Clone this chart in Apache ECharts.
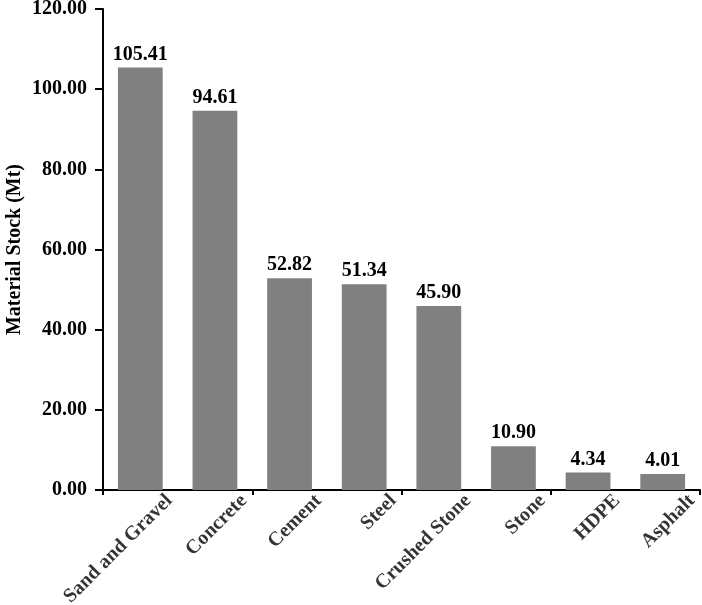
<!DOCTYPE html>
<html>
<head>
<meta charset="utf-8">
<script src="https://cdn.jsdelivr.net/npm/echarts@6/dist/echarts.min.js"></script>
<style>
	html, body { margin: 0; padding: 0; background: #fff; }
	#chart { width: 702px; height: 605px; }
</style>
</head>
<body>
<div id="chart"></div>
<script>
var materials = ['Sand and Gravel', 'Concrete', 'Cement', 'Steel', 'Crushed Stone', 'Stone', 'HDPE', 'Asphalt'];
var stockMt = [105.41, 94.61, 52.82, 51.34, 45.90, 10.90, 4.34, 4.01];
var yTicks = [0, 20, 40, 60, 80, 100, 120];

var font = '"Liberation Serif", "Times New Roman", serif';

var myChart = echarts.init(document.getElementById('chart'));
myChart.setOption({
	animation: false,
	grid: { left: 103, right: 2, top: 9, bottom: 115, containLabel: false, outerBoundsMode: 'none' },
	xAxis: {
		type: 'category',
		data: materials,
		axisLine: { lineStyle: { color: '#000', width: 2 } },
		axisTick: { show: true, inside: false, length: 5, lineStyle: { color: '#000', width: 2 } },
		// category names are drawn by the label series below so they can be shifted like the original
		axisLabel: { show: false }
	},
	yAxis: {
		type: 'value',
		min: yTicks[0],
		max: yTicks[yTicks.length - 1],
		interval: 20,
		name: 'Material Stock (Mt)',
		nameLocation: 'middle',
		nameGap: 78,
		nameMoveOverlap: false,
		nameTextStyle: { color: '#000', fontFamily: font, fontWeight: 'bold', fontSize: 20 },
		axisLine: { show: true, lineStyle: { color: '#000', width: 2 } },
		axisTick: { show: true, length: 8, lineStyle: { color: '#000', width: 2 } },
		splitLine: { show: false },
		axisLabel: {
			margin: 16,
			color: '#000',
			fontFamily: font,
			fontWeight: 'bold',
			fontSize: 20,
			formatter: function(v) { return v.toFixed(2); }
		}
	},
	series: [{
		type: 'bar',
		data: stockMt,
		barWidth: '60%',
		itemStyle: { color: '#808080' },
		label: {
			show: true,
			position: 'top',
			distance: 3,
			color: '#000',
			fontFamily: font,
			fontWeight: 'bold',
			fontSize: 20,
			formatter: function(p) { return p.value.toFixed(2); }
		}
	}, {
		type: 'scatter',
		silent: true,
		clip: false,
		symbolSize: 0,
		data: materials.map(function(m) { return [m, 0]; }),
		label: {
			show: true,
			position: 'inside',
			rotate: 45,
			align: 'right',
			verticalAlign: 'middle',
			// offset is in the rotated frame: about 29px right, 8px down on screen
			offset: [15, 26],
			color: '#000',
			fontFamily: font,
			fontWeight: 'bold',
			fontSize: 20,
			formatter: function(p) { return p.value[0]; }
		}
	}]
});
</script>
</body>
</html>
